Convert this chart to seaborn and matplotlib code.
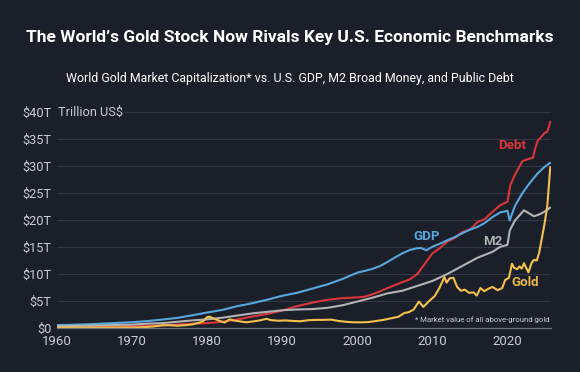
import matplotlib
matplotlib.use("Agg")
import matplotlib.pyplot as plt
import seaborn as sns
import pandas as pd

# US nominal GDP, trillion US$
gdp_year = [1960, 1962, 1964, 1966, 1968, 1970, 1972, 1974, 1976, 1978, 1980, 1982, 1984,
            1986, 1988, 1990, 1992, 1994, 1996, 1998, 2000, 2001, 2002, 2003, 2004, 2005,
            2006, 2007, 2008, 2008.5, 2009.2, 2010, 2011, 2012, 2013, 2014, 2015, 2016,
            2017, 2018, 2019, 2020.0, 2020.3, 2020.6, 2021, 2022, 2023, 2024, 2025, 2025.7]
gdp_val = [0.54, 0.60, 0.68, 0.81, 0.94, 1.07, 1.28, 1.55, 1.87, 2.35, 2.86, 3.34, 4.04,
           4.58, 5.24, 5.96, 6.52, 7.29, 8.07, 9.06, 10.25, 10.58, 10.94, 11.46, 12.21, 13.04,
           13.82, 14.45, 14.77, 14.8, 14.4, 15.05, 15.6, 16.25, 16.84, 17.55, 18.21, 18.7,
           19.48, 20.53, 21.38, 21.7, 19.9, 21.1, 22.6, 25.0, 26.9, 28.6, 29.9, 30.6]

# US public debt, trillion US$
debt_year = [1960, 1965, 1970, 1972, 1974, 1976, 1978, 1980, 1982, 1984, 1986, 1988, 1990,
             1992, 1994, 1996, 1998, 2000, 2001, 2002, 2003, 2004, 2005, 2006, 2007, 2008,
             2009, 2010, 2011, 2012, 2013, 2014, 2015, 2016, 2017, 2018, 2019, 2020.0,
             2020.4, 2021, 2022, 2023, 2023.4, 2023.6, 2024, 2025, 2025.3, 2025.55, 2025.7]
debt_val = [0.29, 0.32, 0.37, 0.43, 0.48, 0.63, 0.78, 0.91, 1.14, 1.57, 2.12, 2.6, 3.23,
            4.06, 4.69, 5.22, 5.53, 5.67, 5.8, 6.23, 6.78, 7.38, 7.93, 8.5, 9.0, 10.0,
            11.9, 13.8, 14.8, 16.0, 16.7, 17.8, 18.2, 19.6, 20.2, 21.5, 22.7, 23.4,
            26.5, 28.4, 30.9, 31.4, 31.5, 32.8, 34.6, 36.2, 36.3, 37.4, 38.2]

# US M2 money supply, trillion US$
m2_year = [1960, 1965, 1970, 1972, 1974, 1976, 1978, 1980, 1982, 1984, 1986, 1988, 1990,
           1992, 1994, 1996, 1998, 2000, 2002, 2004, 2006, 2008, 2010, 2012, 2014, 2016,
           2018, 2019, 2020.0, 2020.3, 2020.5, 2021, 2022.2, 2022.8, 2023.5, 2024, 2024.5,
           2025, 2025.7]
m2_val = [0.31, 0.46, 0.63, 0.80, 0.90, 1.15, 1.40, 1.6, 1.9, 2.3, 2.7, 2.99, 3.28,
          3.43, 3.5, 3.73, 4.2, 4.9, 5.6, 6.4, 6.9, 7.8, 8.7, 10.0, 11.5, 13.0,
          14.1, 15.0, 15.4, 18.0, 18.6, 19.9, 21.8, 21.3, 20.7, 20.9, 21.2, 21.6, 22.3]

# World gold market capitalization, trillion US$
gold_year = [1960, 1965, 1970, 1971, 1972, 1973, 1974, 1975, 1976, 1977, 1978, 1979,
             1979.5, 1980.0, 1980.3, 1980.8, 1981.5, 1982.3, 1983.0, 1983.5, 1984.5, 1985.2,
             1986, 1987, 1987.9, 1988.5, 1989.5, 1990.5, 1991.5, 1992.5, 1993.5, 1994.5,
             1995.5, 1996.5, 1997.5, 1998.5, 1999.5, 2000.5, 2001.5, 2002.5, 2003.5, 2004.5,
             2005.5, 2006.3, 2006.8, 2007.5, 2008.2, 2008.8, 2009.5, 2010.3, 2010.9, 2011.6,
             2011.9, 2012.3, 2012.8, 2013.3, 2013.8, 2014.3, 2014.9, 2015.5, 2015.9, 2016.4,
             2016.9, 2017.5, 2018.0, 2018.7, 2019.3, 2019.7, 2020.2, 2020.6, 2020.9, 2021.3,
             2021.6, 2021.9, 2022.2, 2022.5, 2022.8, 2023.2, 2023.5, 2023.9, 2024.2, 2024.5,
             2024.9, 2025.3, 2025.55, 2025.7]
gold_val = [0.07, 0.08, 0.09, 0.12, 0.18, 0.3, 0.5, 0.52, 0.42, 0.5, 0.66, 1.0,
            1.3, 2.0, 2.1, 1.8, 1.4, 1.0, 1.6, 1.4, 1.2, 1.05,
            1.2, 1.4, 1.7, 1.45, 1.35, 1.4, 1.3, 1.25, 1.45, 1.5,
            1.5, 1.55, 1.3, 1.15, 1.05, 1.05, 1.1, 1.3, 1.5, 1.8,
            2.1, 2.8, 2.9, 3.4, 4.9, 3.9, 4.9, 5.9, 7.3, 9.4,
            8.4, 9.2, 9.3, 7.6, 6.9, 7.1, 6.5, 6.6, 6.0, 7.4,
            6.8, 7.3, 7.6, 7.0, 7.4, 8.9, 9.3, 11.9, 11.1, 10.9,
            11.4, 11.0, 12.0, 11.1, 10.3, 12.0, 12.6, 12.5, 13.8, 16.0,
            19.0, 22.5, 27.0, 29.8]

series_names = ["Debt", "GDP", "M2", "Gold"]
y_ticks = [0, 5, 10, 15, 20, 25, 30, 35, 40]
y_tick_labels = ["$0", "$5T", "$10T", "$15T", "$20T", "$25T", "$30T", "$35T", "$40T"]
x_ticks = [1960, 1970, 1980, 1990, 2000, 2010, 2020]

bg = "#1b1f29"
text_col = "#c9ccd3"
colors = {"Debt": "#d9363b", "GDP": "#58a7dc", "M2": "#b3b3b5", "Gold": "#f3c14d"}

df = pd.concat([
    pd.DataFrame({"year": debt_year, "value": debt_val, "series": "Debt"}),
    pd.DataFrame({"year": gdp_year, "value": gdp_val, "series": "GDP"}),
    pd.DataFrame({"year": m2_year, "value": m2_val, "series": "M2"}),
    pd.DataFrame({"year": gold_year, "value": gold_val, "series": "Gold"}),
])

sns.set_theme(style="dark")
plt.rcParams["font.family"] = ["Roboto", "DejaVu Sans"]

fig = plt.figure(figsize=(5.8, 3.72), dpi=100, facecolor=bg)
ax = fig.add_axes([0.0983, 0.1183, 0.8517, 0.5807])
ax.set_facecolor(bg)

ax.grid(axis="y", color="#323744", linewidth=0.8)
ax.grid(axis="x", visible=False)
ax.set_axisbelow(True)

sns.lineplot(data=df, x="year", y="value", hue="series", hue_order=series_names,
             palette=colors, linewidth=1.5, legend=False, ax=ax, sort=False)

ax.set_xlim(1960, 2025.8)
ax.set_ylim(0, 40)
ax.set_yticks(y_ticks)
ax.set_yticklabels(y_tick_labels)
ax.set_xticks(x_ticks)
ax.set_xlabel("")
ax.set_ylabel("")
ax.tick_params(axis="y", colors=text_col, labelsize=9.2, length=0, pad=4)
ax.tick_params(axis="x", colors=text_col, labelsize=9.5, length=3, width=0.8,
               direction="out", pad=2, color="#6b7080")
for side in ["top", "right", "left"]:
    ax.spines[side].set_visible(False)
ax.spines["bottom"].set_color("#6b7080")
ax.spines["bottom"].set_linewidth(0.9)

ax.text(1960.15, 40, "Trillion US$", color=text_col, fontsize=9.2, va="center", ha="left",
        bbox=dict(facecolor=bg, edgecolor="none", pad=1.5))

# series labels
ax.text(2020.6, 33.7, "Debt", color=colors["Debt"], fontsize=9.5, fontweight="bold",
        ha="center", va="center")
ax.text(2009.2, 17.0, "GDP", color=colors["GDP"], fontsize=9.5, fontweight="bold",
        ha="center", va="center")
ax.text(2018.0, 16.1, "M2", color=colors["M2"], fontsize=9.5, fontweight="bold",
        ha="center", va="center")
ax.text(2022.4, 8.5, "Gold", color="#e8b94a", fontsize=9.5, fontweight="bold",
        ha="center", va="center")

ax.text(2025.6, 1.5, "* Market value of all above-ground gold", color=text_col,
        fontsize=5.6, ha="right", va="center")

fig.text(0.5, 0.90, "The World\u2019s Gold Stock Now Rivals Key U.S. Economic Benchmarks",
         color="white", fontsize=12.5, fontweight="bold", ha="center", va="center")
fig.text(0.5, 0.79, "World Gold Market Capitalization* vs. U.S. GDP, M2 Broad Money, and Public Debt",
         color="white", fontsize=8.9, ha="center", va="center")

fig.savefig("out.png", dpi=100, facecolor=bg)
